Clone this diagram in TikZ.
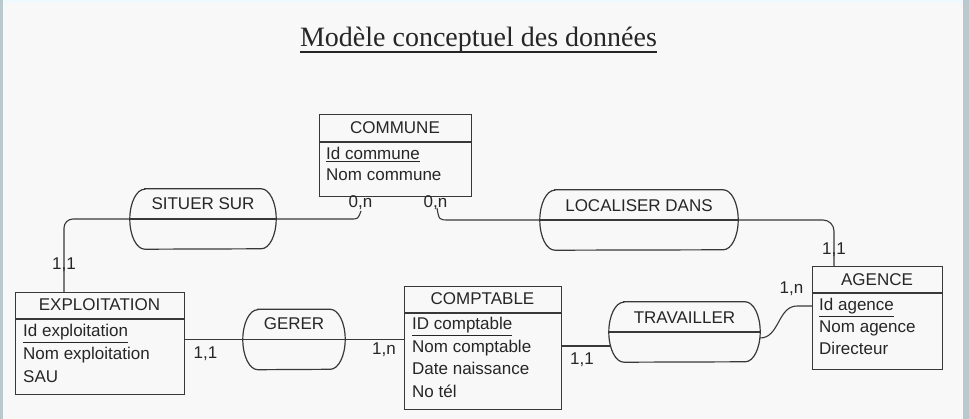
\documentclass[tikz,border=0pt]{standalone}
\usepackage{fontspec}
\setmainfont{Liberation Sans}
\newfontfamily\titrefont{Liberation Serif}
\definecolor{fond}{HTML}{F8F8F8}
\definecolor{trait}{HTML}{383838}
\definecolor{bord}{HTML}{B9C9CD}
\definecolor{encre}{HTML}{262626}

\begin{document}
\begin{tikzpicture}[x=1pt,y=-1pt,
  entite/.style={draw=trait,line width=1.2pt,rectangle,inner sep=0pt,anchor=north west},
  relation/.style={rectangle,inner sep=0pt,minimum height=60},
  bout/.style={x radius=15pt,y radius=30pt},
  txt/.style={inner sep=0pt,text=encre,font=\fontsize{17}{20}\selectfont},
  attr/.style={txt,anchor=base west},
  card/.style={inner sep=0pt,text=encre,font=\fontsize{17}{20}\selectfont},
  lien/.style={draw=trait,line width=1.1pt},
  contour/.style={draw=trait,line width=1.2pt}]
\fill[fond] (0,0) rectangle (969,419);
\fill[bord] (0,0) rectangle (3,419);
\fill[bord] (963,0) rectangle (969,419);
\fill[cyan!6] (3,0) rectangle (963,3);
\useasboundingbox (0,0) rectangle (969,419);

\node[inner sep=0pt,anchor=base,text=encre,font=\titrefont\fontsize{28}{30}\selectfont] (titre) at (478.5,47) {Modèle conceptuel des données};
\draw[encre,line width=1.4pt] (titre.west |- 0,52) -- (titre.east |- 0,52);

% entites
\node[entite,minimum width=152,minimum height=82] (commune) at (319,114) {};
\draw[lien] (commune.west |- 0,142) -- (commune.east |- 0,142);
\node[txt] (communeT) at (395,128) {COMMUNE};
\node[attr] (communeA) at (326,160) {\underline{Id commune}};
\node[attr] (communeB) at (326,181) {Nom commune};

\node[entite,minimum width=169,minimum height=102] (exploitation) at (15,292) {};
\draw[lien] (exploitation.west |- 0,319) -- (exploitation.east |- 0,319);
\node[txt] (exploitationT) at (99.5,305) {EXPLOITATION};
\node[attr] (exploitationA) at (23,337) {\underline{Id exploitation}};
\node[attr] (exploitationB) at (23,359.5) {Nom exploitation};
\node[attr] (exploitationC) at (23,382) {SAU};

\node[entite,minimum width=157,minimum height=123] (comptable) at (404,286) {};
\draw[lien] (comptable.west |- 0,313) -- (comptable.east |- 0,313);
\node[txt] (comptableT) at (482.5,298.5) {COMPTABLE};
\node[attr] (comptableA) at (412,330) {\underline{ID comptable}};
\node[attr] (comptableB) at (412,353) {Nom comptable};
\node[attr] (comptableC) at (412,375) {Date naissance};
\node[attr] (comptableD) at (412,397) {No tél};

\node[entite,minimum width=130,minimum height=103] (agence) at (812,266) {};
\draw[lien] (agence.west |- 0,293) -- (agence.east |- 0,293);
\node[txt] (agenceT) at (877,279.5) {AGENCE};
\node[attr] (agenceA) at (819,311) {\underline{Id agence}};
\node[attr] (agenceB) at (819,333) {Nom agence};
\node[attr] (agenceC) at (819,355) {Directeur};

% associations
\node[relation,minimum width=146] (situer) at (203,219) {};
\draw[contour] ([xshift=15]situer.north west) -- ([xshift=-15]situer.north east) arc[start angle=90,end angle=-90,bout] -- ([xshift=15]situer.south west) arc[start angle=270,end angle=90,bout] -- cycle;
\draw[lien] (situer.west) -- (situer.east);
\node[txt] (situerT) at (203,203.5) {SITUER SUR};

\node[relation,minimum width=198] (localiser) at (639,220) {};
\draw[contour] ([xshift=15]localiser.north west) -- ([xshift=-15]localiser.north east) arc[start angle=90,end angle=-90,bout] -- ([xshift=15]localiser.south west) arc[start angle=270,end angle=90,bout] -- cycle;
\draw[lien] (localiser.west) -- (localiser.east);
\node[txt] (localiserT) at (639,205.5) {LOCALISER DANS};

\node[relation,minimum width=102] (gerer) at (294,339.5) {};
\draw[contour] ([xshift=15]gerer.north west) -- ([xshift=-15]gerer.north east) arc[start angle=90,end angle=-90,bout] -- ([xshift=15]gerer.south west) arc[start angle=270,end angle=90,bout] -- cycle;
\draw[lien] (gerer.west) -- (gerer.east);
\node[txt] (gererT) at (294,323.5) {GERER};

\node[relation,minimum width=151] (travailler) at (684.5,332) {};
\draw[contour] ([xshift=15]travailler.north west) -- ([xshift=-15]travailler.north east) arc[start angle=90,end angle=-90,bout] -- ([xshift=15]travailler.south west) arc[start angle=270,end angle=90,bout] -- cycle;
\draw[lien] (travailler.west) -- (travailler.east);
\node[txt] (travaillerT) at (684.5,317.5) {TRAVAILLER};

% liens
\draw[lien,rounded corners=9] ([xshift=49]exploitation.north west) |- (situer.west);
\draw[lien] (situer.east) -- (351,219) .. controls (358,219) .. (361,211);
\draw[lien] (437,208) .. controls (439,220) .. (449,220) -- (localiser.west);
\draw[lien,rounded corners=11] (localiser.east) -| ([xshift=22]agence.north west);
\draw[lien] (exploitation.east |- gerer.west) -- (gerer.west);
\draw[lien] (gerer.east) -- (gerer.east -| comptable.west);
\draw[lien] (comptable.east |- 0,346) -- ([xshift=2]travailler.west |- 0,346);
\draw[lien] (travailler.east |- 0,338) to[out=0,in=180] (797,306) -- (agence.west |- 0,306);

% cardinalites
\node[card] (cardA) at (360.5,203) {0,n};
\node[card] (cardB) at (435.5,203) {0,n};
\node[card] (cardC) at (64,265) {1,1};
\node[card] (cardD) at (834,250) {1,1};
\node[card] (cardE) at (205.5,353.5) {1,1};
\node[card] (cardF) at (384,350) {1,n};
\node[card] (cardG) at (791.5,289) {1,n};
\node[card] (cardH) at (582,359.5) {1,1};
\end{tikzpicture}
\end{document}
